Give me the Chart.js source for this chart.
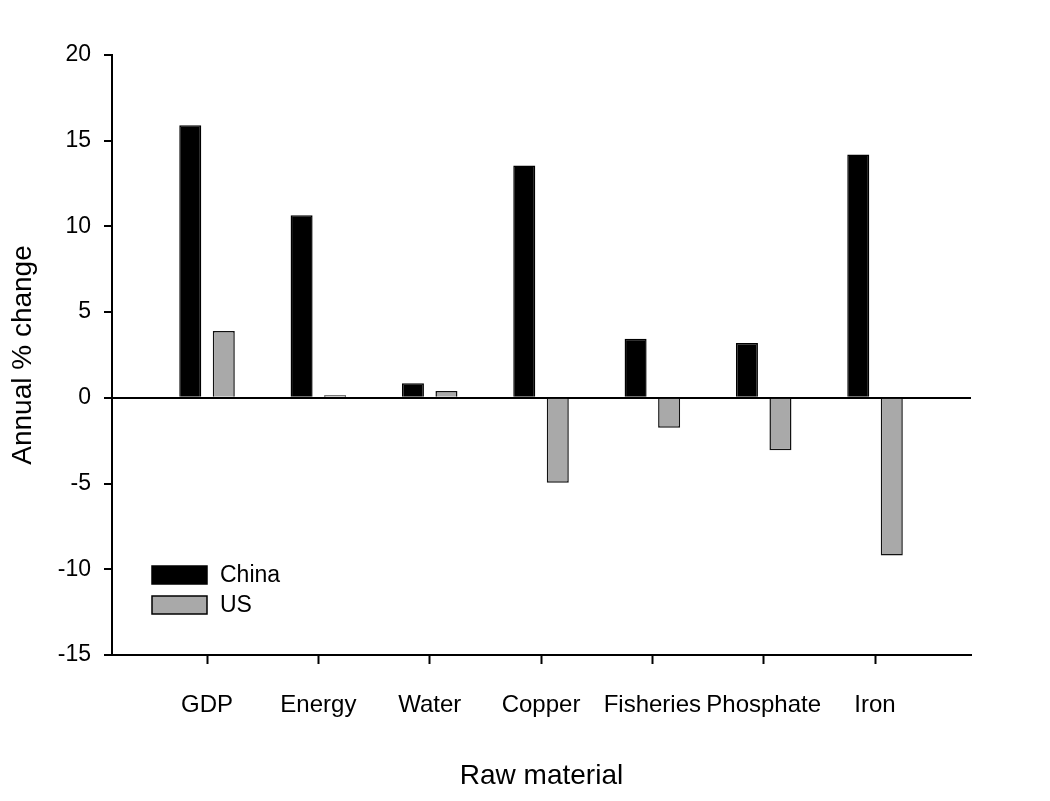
<!DOCTYPE html>
<html>
<head>
  <meta charset="utf-8" />
  <title>Annual % change by raw material</title>
  <script src="https://cdn.jsdelivr.net/npm/chart.js@4.4.1/dist/chart.umd.min.js"></script>
  <style>
    html, body { margin: 0; padding: 0; background: #fff; }
    #wrap { width: 1050px; height: 801px; position: relative; }
  </style>
</head>
<body>
  <div id="wrap"><canvas id="chart"></canvas></div>
  <script>
    // data
    var materials = ["GDP", "Energy", "Water", "Copper", "Fisheries", "Phosphate", "Iron"];
    var china = [15.9, 10.65, 0.85, 13.55, 3.45, 3.2, 14.2];
    var us = [3.9, 0.15, 0.4, -4.95, -1.75, -3.05, -9.2];
    var yTicks = [-15, -10, -5, 0, 5, 10, 15, 20];

    var FONT = "Arial, 'Liberation Sans', sans-serif";

    function toPoints(values) {
      return values.map(function (v, i) { return { x: i + 1, y: v }; });
    }

    // legend drawn inside the plot, lower left
    var insideLegend = {
      id: 'insideLegend',
      afterDraw: function (chart) {
        var ctx = chart.ctx;
        var area = chart.chartArea;
        var x = area.left + 40;
        var y = area.top + 511;
        ctx.save();
        ctx.font = "23px " + FONT;
        ctx.textBaseline = 'middle';
        chart.data.datasets.forEach(function (ds, i) {
          var by = y + i * 30;
          ctx.fillStyle = ds.backgroundColor;
          ctx.fillRect(x, by, 55, 18);
          ctx.lineWidth = 1.5;
          ctx.strokeStyle = '#000';
          ctx.strokeRect(x, by, 55, 18);
          ctx.fillStyle = '#000';
          ctx.fillText(ds.label, x + 68, by + 10);
        });
        ctx.restore();
      }
    };

    var ctx = document.getElementById("chart").getContext("2d");
    var chart = new Chart(ctx, {
      type: 'bar',
      data: {
        datasets: [{
          label: "China",
          data: toPoints(china),
          backgroundColor: "#000000",
          borderColor: "#000000",
          borderWidth: 1.5
        }, {
          label: "US",
          data: toPoints(us),
          backgroundColor: "#a9a9a9",
          borderColor: "#111111",
          borderWidth: 1.5
        }]
      },
      options: {
        responsive: true,
        maintainAspectRatio: false,
        animation: false,
        categoryPercentage: 0.602,
        barPercentage: 0.657,
        layout: { padding: { top: 55, right: 79, left: 0, bottom: 0 } },
        plugins: {
          legend: { display: false },
          tooltip: { enabled: false }
        },
        scales: {
          x: {
            type: 'linear',
            offset: false,
            min: 0.1465,
            max: 7.862,
            afterBuildTicks: function (axis) {
              axis.ticks = materials.map(function (m, i) { return { value: i + 1 }; });
            },
            afterFit: function (scale) { scale.height = 146; },
            ticks: {
              autoSkip: false,
              maxRotation: 0,
              padding: 27,
              color: '#000',
              font: { family: FONT, size: 24 },
              callback: function (value) { return materials[value - 1]; }
            },
            grid: {
              offset: false,
              drawOnChartArea: false,
              tickLength: 9,
              tickWidth: 2,
              tickColor: '#000'
            },
            border: { display: true, color: '#000', width: 2 },
            title: {
              display: true,
              text: "Raw material",
              color: '#000',
              font: { family: FONT, size: 28 },
              padding: { top: 0, bottom: 8 }
            }
          },
          y: {
            min: -15,
            max: 20,
            afterBuildTicks: function (axis) {
              axis.ticks = yTicks.map(function (v) { return { value: v }; });
            },
            afterFit: function (scale) { scale.width = 112; },
            ticks: {
              padding: 13,
              color: '#000',
              font: { family: FONT, size: 23 }
            },
            grid: {
              color: function (c) { return c.tick && c.tick.value === 0 ? '#000' : 'rgba(0,0,0,0)'; },
              lineWidth: 2,
              tickLength: 8,
              tickWidth: 2,
              tickColor: '#000'
            },
            border: { display: true, color: '#000', width: 2 },
            title: {
              display: true,
              text: "Annual % change",
              color: '#000',
              font: { family: FONT, size: 28 },
              padding: { top: 6, bottom: 0 }
            }
          }
        }
      },
      plugins: [insideLegend]
    });
  </script>
</body>
</html>
